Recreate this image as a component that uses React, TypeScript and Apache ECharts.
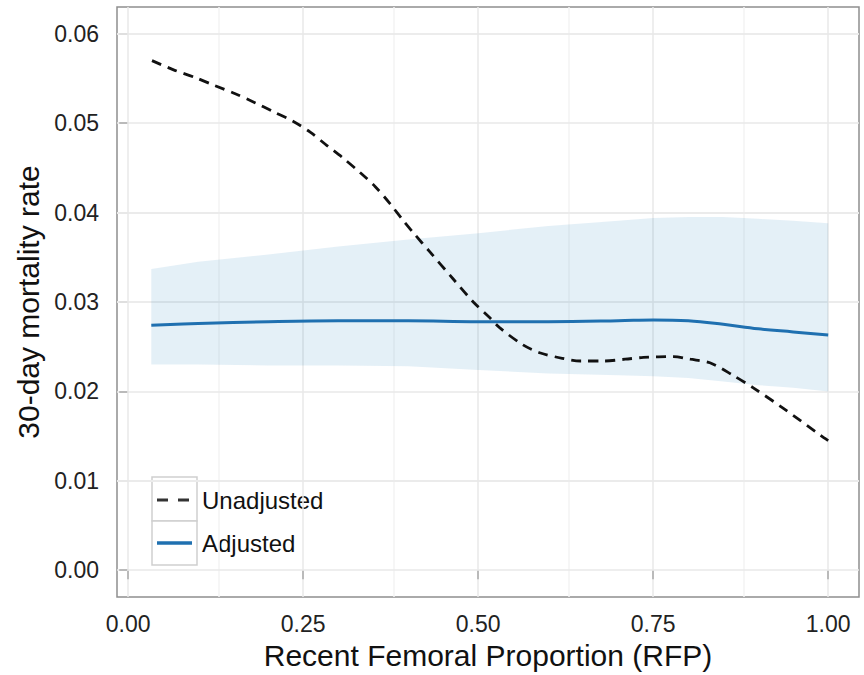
import React, { useEffect, useRef } from "react";
import * as echarts from "echarts";

// Unadjusted (dashed) curve
const unadjX = [0.034, 0.064, 0.096, 0.124, 0.153, 0.181, 0.207, 0.236, 0.26, 0.284, 0.307, 0.331, 0.353, 0.374, 0.393, 0.41, 0.431, 0.464, 0.493, 0.517, 0.531, 0.564, 0.589, 0.62, 0.646, 0.679, 0.71, 0.736, 0.779, 0.803, 0.831, 0.864, 0.893, 0.936, 0.989, 1.0];
const unadjY = [0.057, 0.056, 0.0551, 0.0542, 0.0533, 0.0523, 0.0513, 0.0502, 0.049, 0.0475, 0.0461, 0.0445, 0.0429, 0.041, 0.0391, 0.0375, 0.0356, 0.0326, 0.03, 0.0282, 0.0271, 0.0252, 0.0243, 0.0237, 0.0234, 0.0234, 0.0236, 0.0238, 0.0239, 0.0236, 0.0232, 0.0218, 0.0204, 0.0181, 0.0151, 0.0145];

// Adjusted curve with confidence band
const adjX = [0.033, 0.1, 0.2, 0.3, 0.4, 0.5, 0.6, 0.7, 0.75, 0.8, 0.85, 0.9, 0.95, 1.0];
const adjY = [0.0274, 0.0276, 0.0278, 0.0279, 0.0279, 0.0278, 0.0278, 0.0279, 0.028, 0.0279, 0.0275, 0.027, 0.02665, 0.0263];
const upperY = [0.0337, 0.0345, 0.0353, 0.0362, 0.037, 0.0377, 0.0385, 0.0391, 0.0394, 0.0395, 0.0395, 0.0393, 0.0391, 0.0388];
const lowerY = [0.023, 0.023, 0.0229, 0.0229, 0.0228, 0.0224, 0.022, 0.0218, 0.0217, 0.0215, 0.0211, 0.0207, 0.0204, 0.02];

// Axes
const xTicks = [0, 0.25, 0.5, 0.75, 1.0];
const xMinor = [0.125, 0.375, 0.625, 0.875];
const yTicks = [0, 0.01, 0.02, 0.03, 0.04, 0.05, 0.06];
const yMinor = [0.005, 0.015, 0.025, 0.035, 0.045, 0.055];
const legendNames = ["Unadjusted", "Adjusted"];

const X_MIN = -0.016;
const X_MAX = 1.044;
const Y_MIN = -0.003;
const Y_MAX = 0.063;

export default function App() {
  const ref = useRef<HTMLDivElement>(null);
  useEffect(() => {
    if (!ref.current) return;
    const chart = echarts.init(ref.current, null, { renderer: "svg" });
    const font = "'Liberation Sans', Arial, Helvetica, sans-serif";
    const gridMarks = [
      ...yMinor.map((v) => ({ yAxis: v, lineStyle: { color: "#f3f3f3", width: 1.5, type: "solid" } })),
      ...xMinor.map((v) => ({ xAxis: v, lineStyle: { color: "#f3f3f3", width: 1.5, type: "solid" } })),
      ...yTicks.map((v) => ({ yAxis: v, lineStyle: { color: "#e8e8e8", width: 1.5, type: "solid" } })),
      ...xTicks.map((v) => ({ xAxis: v, lineStyle: { color: "#e8e8e8", width: 1.5, type: "solid" } })),
    ];
    chart.setOption({
      animation: false,
      backgroundColor: "#ffffff",
      grid: {
        left: 117,
        right: 5,
        top: 7,
        bottom: 76,
        show: true,
        borderColor: "#8f8f8f",
        borderWidth: 1.5,
        backgroundColor: "#ffffff",
        containLabel: false,
      },
      xAxis: {
        type: "value",
        min: X_MIN,
        max: X_MAX,
        name: "Recent Femoral Proportion (RFP)",
        nameLocation: "middle",
        nameGap: 43,
        nameTextStyle: { fontSize: 30, color: "#111", fontFamily: font },
        axisLine: { show: false },
        axisTick: { show: true, length: 9, lineStyle: { color: "#333", width: 2 }, customValues: xTicks },
        axisLabel: {
          fontSize: 23,
          color: "#222",
          fontFamily: font,
          margin: 15,
          customValues: xTicks,
          formatter: (v: number) => v.toFixed(2),
        },
        splitLine: { show: false },
      },
      yAxis: {
        type: "value",
        min: Y_MIN,
        max: Y_MAX,
        name: "30-day mortality rate",
        nameLocation: "middle",
        nameGap: 65,
        nameTextStyle: { fontSize: 30, color: "#111", fontFamily: font },
        axisLine: { show: false },
        axisTick: { show: true, length: 9, lineStyle: { color: "#333", width: 2 }, customValues: yTicks },
        axisLabel: {
          fontSize: 23,
          color: "#222",
          fontFamily: font,
          margin: 18,
          customValues: yTicks,
          formatter: (v: number) => v.toFixed(2),
        },
        splitLine: { show: false },
      },
      series: [
        {
          name: "grid",
          type: "line",
          data: [],
          silent: true,
          z: 1,
          markLine: {
            silent: true,
            symbol: "none",
            z: 1,
            label: { show: false },
            animation: false,
            data: gridMarks,
          },
        },
        {
          name: "band",
          type: "custom",
          z: 2,
          silent: true,
          data: [[adjX[0], adjY[0]]],
          renderItem: (params: any, api: any) => {
            if (params.dataIndex !== 0) return null;
            const pts: number[][] = [];
            for (let i = 0; i < adjX.length; i++) pts.push(api.coord([adjX[i], upperY[i]]));
            for (let i = adjX.length - 1; i >= 0; i--) pts.push(api.coord([adjX[i], lowerY[i]]));
            return {
              type: "polygon",
              shape: { points: pts },
              style: { fill: "rgba(0,114,178,0.105)", stroke: "none" },
            };
          },
        },
        {
          name: legendNames[1],
          type: "line",
          z: 3,
          data: adjX.map((x, i) => [x, adjY[i]]),
          symbol: "none",
          smooth: 0.4,
          lineStyle: { color: "#1f70b0", width: 3 },
        },
        {
          name: legendNames[0],
          type: "line",
          z: 4,
          data: unadjX.map((x, i) => [x, unadjY[i]]),
          symbol: "none",
          smooth: 0.3,
          lineStyle: { color: "#111", width: 2.8, type: [10, 7] },
        },
      ],
      graphic: [
        {
          type: "group",
          z: 100,
          children: [
            { type: "rect", shape: { x: 142, y: 467, width: 191, height: 108 }, style: { fill: "#ffffff" } },
            { type: "rect", shape: { x: 152, y: 477, width: 45, height: 44 }, style: { fill: "#ffffff", stroke: "#cfcfcf", lineWidth: 1.5 } },
            { type: "rect", shape: { x: 152, y: 521, width: 45, height: 44 }, style: { fill: "#ffffff", stroke: "#cfcfcf", lineWidth: 1.5 } },
            { type: "line", shape: { x1: 157, y1: 500, x2: 191, y2: 500 }, style: { stroke: "#333", lineWidth: 2.8, lineDash: [11, 10] } },
            { type: "line", shape: { x1: 157, y1: 543, x2: 192, y2: 543 }, style: { stroke: "#1f70b0", lineWidth: 3.5 } },
            { type: "text", x: 202, y: 500, style: { text: legendNames[0], fontSize: 24, fill: "#111", fontFamily: font, verticalAlign: "middle", align: "left" } },
            { type: "text", x: 202, y: 543, style: { text: legendNames[1], fontSize: 24, fill: "#111", fontFamily: font, verticalAlign: "middle", align: "left" } },
          ],
        },
      ],
    });
    return () => chart.dispose();
  }, []);
  return <div ref={ref} style={{ width: 864, height: 675, position: "absolute", left: 0, top: 0 }} />;
}
